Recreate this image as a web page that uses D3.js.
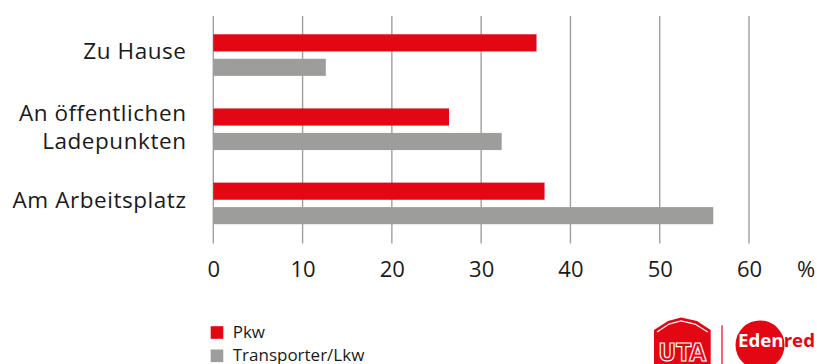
<!DOCTYPE html>
<html>
<head>
<meta charset="utf-8">
<script src="https://cdn.jsdelivr.net/npm/d3@7"></script>
<style>
  html, body { margin: 0; padding: 0; background: #fff; }
  svg { display: block; font-family: "Open Sans", "Noto Sans", sans-serif; }
</style>
</head>
<body>
<svg id="chart" width="817" height="364"></svg>
<script>
// ---- data ----
const categories = [["Zu Hause"], ["An öffentlichen", "Ladepunkten"], ["Am Arbeitsplatz"]];
const seriesNames = ["Pkw", "Transporter/Lkw"];
const pkwValues = [36.2, 26.4, 37.1];
const transporterValues = [12.6, 32.3, 56.0];
const xTicks = [0, 10, 20, 30, 40, 50, 60];
const unitLabel = "%";

const colors = { "Pkw": "#e30613", "Transporter/Lkw": "#9d9d9c" };

const svg = d3.select("#chart");

const catKeys = categories.map(c => c.join(" "));
const x = d3.scaleLinear().domain([0, 60]).range([213.3, 749]);
const y = d3.scaleBand().domain(catKeys).range([18, 240.5]).padding(0);
const ySub = d3.scaleBand().domain(seriesNames).range([-20.8, 20.8]).paddingInner(0.3).paddingOuter(0);

// gridlines
svg.append("g").selectAll("line").data(xTicks).join("line")
  .attr("x1", d => x(d)).attr("x2", d => x(d))
  .attr("y1", 16).attr("y2", 243.5)
  .attr("stroke", "#a0a0a0").attr("stroke-width", 1.4);

// bars
const rows = catKeys.map((k, i) => ({ key: k, values: [
  { s: "Pkw", v: pkwValues[i] },
  { s: "Transporter/Lkw", v: transporterValues[i] }
]}));

const g = svg.append("g").selectAll("g").data(rows).join("g")
  .attr("transform", d => `translate(0,${y(d.key) + y.bandwidth() / 2})`);
g.selectAll("rect").data(d => d.values).join("rect")
  .attr("x", x(0))
  .attr("y", d => ySub(d.s))
  .attr("width", d => x(d.v) - x(0))
  .attr("height", ySub.bandwidth())
  .attr("fill", d => colors[d.s]);

// category labels
const lab = svg.append("g").selectAll("text").data(categories).join("text")
  .attr("text-anchor", "end")
  .attr("font-size", 22.5)
  .attr("letter-spacing", 0.55)
  .attr("fill", "#1a1a1a");
lab.each(function(lines, i) {
  const c = y(catKeys[i]) + y.bandwidth() / 2;
  const n = lines.length;
  d3.select(this).selectAll("tspan").data(lines).join("tspan")
    .attr("x", 186.5)
    .attr("y", (l, j) => c + 4.2 + (j - (n - 1) / 2) * 27.6 + (n - 1) * 1.8)
    .text(l => l);
});

// x axis tick labels
const xAxis = d3.axisBottom(x).tickValues(xTicks).tickSize(0).tickPadding(0).tickFormat(d3.format("d"));
const ax = svg.append("g").attr("transform", "translate(0,261)").call(xAxis);
ax.select(".domain").remove();
ax.selectAll("text")
  .attr("font-size", 22).attr("fill", "#1a1a1a")
  .attr("font-family", "Open Sans, Noto Sans, sans-serif")
  .attr("dy", 0).attr("y", 16);
svg.append("text").attr("x", 806).attr("y", 277).attr("text-anchor", "middle")
  .attr("font-size", 22).attr("fill", "#1a1a1a").text(unitLabel);

// legend
const leg = svg.append("g").selectAll("g").data(seriesNames).join("g")
  .attr("transform", (d, i) => `translate(210.7,${326.2 + i * 23.3})`);
leg.append("rect").attr("width", 12.6).attr("height", 12.6).attr("fill", d => colors[d]);
leg.append("text").attr("x", 22).attr("y", 11.8).attr("font-size", 17).attr("fill", "#1a1a1a").text(d => d);

// logo
const logo = svg.append("g");
const red = "#e30613";
logo.append("path")
  .attr("d", "M654,330 L668,321 L681,317.5 L697,321 L710.7,330 L710.7,364 L654,364 Z")
  .attr("fill", red);
logo.append("path")
  .attr("d", "M657,332 L669,324 L681,320.8 L695,324 L707.7,332")
  .attr("fill", "none").attr("stroke", "#fff").attr("stroke-width", 1.3);
logo.append("text").attr("x", 682.3).attr("y", 360.5).attr("text-anchor", "middle")
  .attr("font-size", 25).attr("font-weight", 900).attr("font-family", "DejaVu Sans Condensed, DejaVu Sans, sans-serif")
  .attr("textLength", 48).attr("lengthAdjust", "spacingAndGlyphs")
  .attr("fill", red).attr("stroke", "#fff").attr("stroke-width", 1.2)
  .text("UTA");
logo.append("line").attr("x1", 722).attr("x2", 722).attr("y1", 325.3).attr("y2", 364)
  .attr("stroke", red).attr("stroke-width", 1.2);
logo.append("defs").append("clipPath").attr("id", "edenClip")
  .append("circle").attr("cx", 760).attr("cy", 345).attr("r", 24.5);
logo.append("circle").attr("cx", 760).attr("cy", 345).attr("r", 24.5).attr("fill", red);
const eden = (fill, clip) => {
  const t = logo.append("text").attr("x", 738).attr("y", 347)
    .attr("font-size", 17.5).attr("font-weight", 700)
    .attr("textLength", 77).attr("lengthAdjust", "spacingAndGlyphs")
    .attr("fill", fill).text("Edenred");
  if (clip) t.attr("clip-path", "url(#edenClip)");
};
eden(red, false);
eden("#fff", true);
</script>
</body>
</html>
